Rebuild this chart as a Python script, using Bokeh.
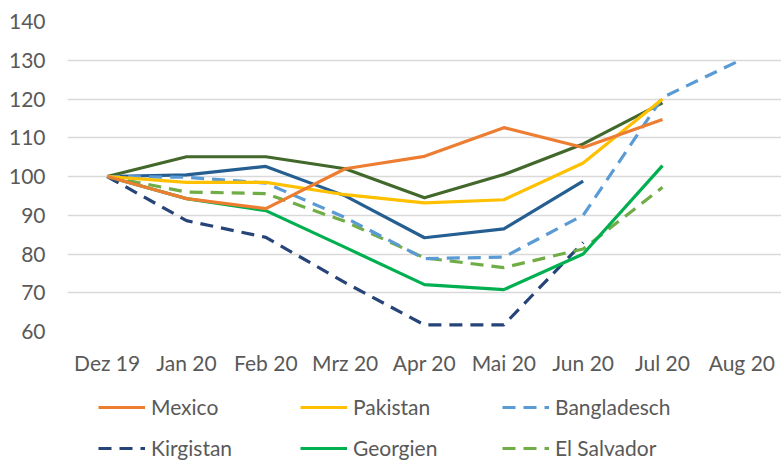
from bokeh.plotting import figure
from bokeh.layouts import column
from bokeh.models import Range1d, FactorRange, Legend, LegendItem, FixedTicker
from bokeh.embed import file_html
from bokeh.resources import INLINE

months = ["Dez 19", "Jan 20", "Feb 20", "Mrz 20", "Apr 20", "Mai 20", "Jun 20", "Jul 20", "Aug 20"]

mexico      = [100, 94.3, 91.7, 102.0, 105.2, 112.6, 107.5, 114.7]
pakistan    = [100, 98.5, 98.5, 95.3, 93.2, 94.0, 103.5, 120.0]
bangladesch = [100, 99.8, 98.3, 89.4, 78.8, 79.2, 90.0, 120.4, 130.2]
kirgistan   = [100, 88.6, 84.3, 72.6, 61.7, 61.7, 83.0]
georgien    = [100, 94.3, 91.2, 81.7, 72.1, 70.8, 80.0, 102.8]
el_salvador = [100, 96.0, 95.6, 88.4, 79.0, 76.5, 81.3, 97.2]
series_blue = [100, 100.4, 102.6, 95.0, 84.2, 86.5, 98.8]
series_dkgreen = [100, 105.1, 105.1, 102.0, 94.5, 100.5, 108.4, 119.0]

y_ticks = [60, 70, 80, 90, 100, 110, 120, 130, 140]

FONT = "Lato"
TXT = "#595959"
W = 3.2
DASH = "13 8"

p = figure(width=781, height=392, x_range=FactorRange(*months), y_range=Range1d(60, 140),
           output_backend="svg", toolbar_location=None,
           min_border_left=67, min_border_right=0, min_border_top=21, min_border_bottom=61)
p.outline_line_color = None
p.background_fill_color = "white"
p.border_fill_color = "white"

p.xgrid.grid_line_color = None
p.ygrid.grid_line_color = "#D9D9D9"
p.ygrid.grid_line_width = 1.3
p.yaxis.ticker = FixedTicker(ticks=y_ticks)

for ax in (p.xaxis[0], p.yaxis[0]):
    ax.axis_line_color = None
    ax.major_tick_line_color = None
    ax.minor_tick_line_color = None
    ax.major_tick_out = 0
    ax.major_tick_in = 0
    ax.minor_tick_out = 0
    ax.major_label_text_font = FONT
    ax.major_label_text_font_size = "21px"
    ax.major_label_text_color = TXT
p.yaxis.major_label_standoff = 22
p.xaxis.major_label_standoff = 18

def ln(fig, vals, color, dash="solid"):
    return fig.line(months[:len(vals)], vals, line_color=color, line_width=W,
                    line_dash=dash, line_join="round")

ln(p, series_blue, "#255E91")
ln(p, series_dkgreen, "#43682B")
styles = {
    "Mexico": (mexico, "#ED7D31", "solid"),
    "Pakistan": (pakistan, "#FFC000", "solid"),
    "Bangladesch": (bangladesch, "#5B9BD5", DASH),
    "Kirgistan": (kirgistan, "#264478", DASH),
    "Georgien": (georgien, "#00B050", "solid"),
    "El Salvador": (el_salvador, "#70AD47", DASH),
}
for name in ["Kirgistan", "El Salvador", "Bangladesch", "Georgien", "Pakistan", "Mexico"]:
    vals, color, dash = styles[name]
    ln(p, vals, color, dash)

# legend panel below the chart (frame is aligned with the chart frame by the column layout)
lg = figure(width=781, height=68, x_range=Range1d(0, 1), y_range=Range1d(0, 1),
            output_backend="svg", toolbar_location=None,
            x_axis_location=None, y_axis_location=None,
            min_border=0, min_border_left=67, min_border_right=0,
            min_border_top=0, min_border_bottom=0)
lg.grid.visible = False
lg.outline_line_color = None
lg.border_fill_color = "white"
lg.background_fill_color = "white"

legend_order = ["Mexico", "Kirgistan", "Pakistan", "Georgien", "Bangladesch", "El Salvador"]
items = []
for name in legend_order:
    vals, color, dash = styles[name]
    r = lg.line([2, 3], [2, 3], line_color=color, line_width=W, line_dash=dash)
    items.append(LegendItem(label=name, renderers=[r]))

legend = Legend(items=items, ncols=3, location=(31, 0))
legend.padding = 0
legend.margin = 0
legend.spacing = 16
legend.glyph_width = 47
legend.glyph_height = 20
legend.label_height = 20
legend.label_width = 133
legend.label_standoff = 6
legend.label_text_font = FONT
legend.label_text_font_size = "21px"
legend.label_text_color = TXT
legend.border_line_color = None
legend.background_fill_alpha = 0
lg.add_layout(legend)

layout = column(p, lg, spacing=0)
open("out.html", "w").write(file_html(layout, INLINE))
